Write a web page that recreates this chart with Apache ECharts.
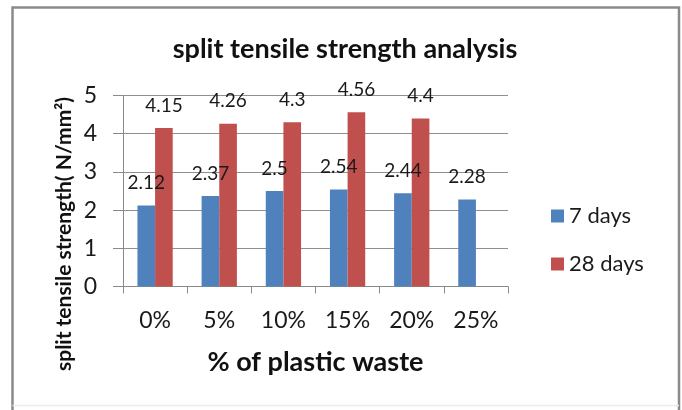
<!DOCTYPE html>
<html>
<head>
<meta charset="utf-8">
<script src="https://cdn.jsdelivr.net/npm/echarts@6/dist/echarts.min.js"></script>
<style>
  html, body { margin: 0; padding: 0; background: #fff; }
  #chart { width: 682px; height: 410px; }
</style>
</head>
<body>
<div id="chart"></div>
<script>
// Split tensile strength (N/mm²) by plastic waste replacement level
const categories = ['0%', '5%', '10%', '15%', '20%', '25%'];
const days7 = [2.12, 2.37, 2.5, 2.54, 2.44, 2.28];
const days28 = [4.15, 4.26, 4.3, 4.56, 4.4, '-'];
const seriesNames = ['7 days', '28 days'];
const yTicks = { min: 0, max: 5, interval: 1 };

const FONT = 'Lato, "Open Sans", sans-serif';
const AXIS_GREY = '#8a8a8a';
const GRID_GREY = '#8f8f8f';

const chart = echarts.init(document.getElementById('chart'), null, { renderer: 'canvas' });

const labelStyle = {
  show: true,
  position: 'top',
  distance: 13,
  fontFamily: FONT,
  fontSize: 19,
  color: '#1a1a1a'
};

chart.setOption({
  backgroundColor: '#fff',
  animation: false,
  title: {
    text: 'split tensile strength analysis',
    left: 345,
    top: 36,
    padding: 0,
    textAlign: 'center',
    textStyle: { fontFamily: FONT, fontWeight: 'bold', fontSize: 27, color: '#111' }
  },
  grid: { left: 123, right: 174, top: 95.5, bottom: 123.5, containLabel: false },
  legend: {
    orient: 'vertical',
    left: 551,
    top: 205,
    padding: 0,
    itemWidth: 13,
    itemHeight: 13,
    itemGap: 26,
    icon: 'rect',
    textStyle: { fontFamily: FONT, fontSize: 22, color: '#1a1a1a', lineHeight: 22 },
    data: seriesNames
  },
  xAxis: {
    type: 'category',
    data: categories,
    name: '% of plastic waste',
    nameLocation: 'middle',
    nameGap: 62,
    nameTextStyle: { fontFamily: FONT, fontWeight: 'bold', fontSize: 27, color: '#111' },
    axisLine: { show: true, lineStyle: { color: AXIS_GREY, width: 1 } },
    axisTick: { show: true, length: 7, interval: 0, lineStyle: { color: AXIS_GREY } },
    axisLabel: { margin: 23, fontFamily: FONT, fontSize: 23, color: '#1a1a1a', interval: 0 },
    splitLine: { show: false }
  },
  yAxis: {
    type: 'value',
    min: yTicks.min,
    max: yTicks.max,
    interval: yTicks.interval,
    axisLine: { show: true, lineStyle: { color: AXIS_GREY, width: 1 } },
    axisTick: { show: true, length: 10, lineStyle: { color: AXIS_GREY } },
    axisLabel: { margin: 26, fontFamily: FONT, fontSize: 23, color: '#1a1a1a' },
    splitLine: { show: true, lineStyle: { color: GRID_GREY, width: 1 } }
  },
  series: [
    {
      name: seriesNames[0],
      type: 'bar',
      data: days7,
      barGap: '0%',
      barCategoryGap: '45%',
      itemStyle: { color: '#4F81BD' },
      label: labelStyle
    },
    {
      name: seriesNames[1],
      type: 'bar',
      data: days28,
      barGap: '0%',
      barCategoryGap: '45%',
      itemStyle: { color: '#C0504D' },
      label: labelStyle
    }
  ],
  graphic: [
    {
      // rotated y-axis title
      type: 'text',
      x: 64,
      y: 234,
      rotation: Math.PI / 2,
      style: {
        text: 'split tensile strength( N/mm²)',
        fontFamily: FONT,
        fontWeight: 'bold',
        fontSize: 21,
        fill: '#111',
        textAlign: 'center',
        textVerticalAlign: 'middle'
      }
    },
    {
      // chart frame: left, top and right edges
      type: 'polyline',
      shape: { points: [[12.5, 410], [12.5, 7.5], [679, 7.5], [679, 410]] },
      style: { stroke: '#8a8a8a', lineWidth: 2.5, fill: null }
    },
    {
      type: 'line',
      shape: { x1: 12.5, y1: 405.5, x2: 679, y2: 405.5 },
      style: { stroke: '#ececec', lineWidth: 1.5 }
    }
  ]
});
</script>
</body>
</html>
